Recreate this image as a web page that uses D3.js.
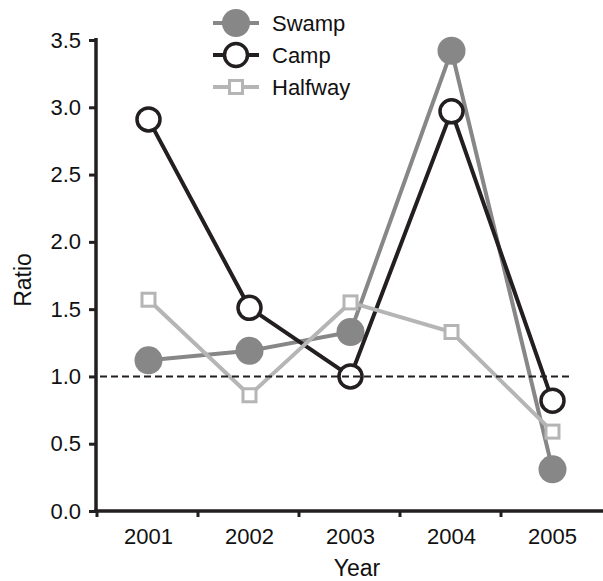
<!DOCTYPE html>
<html><head><meta charset="utf-8">
<script src="https://cdn.jsdelivr.net/npm/d3@7/dist/d3.min.js"></script>
<style>body{margin:0;background:#fff}svg{display:block}text{font-family:"Liberation Sans",Arial,sans-serif;fill:#111}</style>
</head><body><svg id="c" width="603" height="581"></svg>
<script>
const years = ["2001","2002","2003","2004","2005"];
const swamp = [1.12, 1.19, 1.33, 3.42, 0.31];
const camp = [2.91, 1.51, 1.00, 2.97, 0.82];
const halfway = [1.57, 0.86, 1.55, 1.33, 0.59];
const yTicks = [0, 0.5, 1.0, 1.5, 2.0, 2.5, 3.0, 3.5];
const refValue = 1.0;

const svg = d3.select("#c");
const dark = "#231f20", mid = "#878787", light = "#b5b5b5";
const x = d3.scaleBand().domain(years).range([98, 603]);
const y = d3.scaleLinear().domain([0, 3.5]).range([511, 40]);
const cx = d => x(d) + x.bandwidth() / 2;

// y axis
const ya = svg.append("g").attr("transform", "translate(96,0)")
  .call(d3.axisLeft(y).tickValues(yTicks).tickFormat(d3.format(".1f")).tickSize(7).tickPadding(8));
ya.select(".domain").attr("stroke", dark).attr("stroke-width", 3.5).attr("d", "M0,38V513");
ya.selectAll(".tick line").attr("stroke", dark).attr("stroke-width", 3);
ya.selectAll(".tick text").style("font-size", "22px").attr("fill", "#111").style("font-family", "Liberation Sans, Arial");

// x axis
const xa = svg.append("g").attr("transform", "translate(0,511)")
  .call(d3.axisBottom(x).tickSize(0).tickPadding(17));
xa.select(".domain").attr("stroke", dark).attr("stroke-width", 3.5).attr("d", "M94,0H603");
xa.selectAll(".tick text").style("font-size", "22px").attr("fill", "#111").style("font-family", "Liberation Sans, Arial");
xa.selectAll(".bt").data(years).enter().append("line")
  .attr("x1", d => x(d) - 1).attr("x2", d => x(d) - 1).attr("y1", 0).attr("y2", 6)
  .attr("stroke", dark).attr("stroke-width", 3);

// axis titles
svg.append("text").attr("x", 357).attr("y", 576).attr("text-anchor", "middle").style("font-size", "23px").text("Year");
svg.append("text").attr("transform", "translate(31,280) rotate(-90)").attr("text-anchor", "middle").style("font-size", "23px").text("Ratio");

const line = d3.line().x((d, i) => cx(years[i])).y(d => y(d));

// Swamp
svg.append("path").datum(swamp).attr("d", line).attr("fill", "none").attr("stroke", mid).attr("stroke-width", 4);
svg.selectAll(".sw").data(swamp).enter().append("circle")
  .attr("cx", (d, i) => cx(years[i])).attr("cy", d => y(d)).attr("r", 14).attr("fill", mid);
// Camp
svg.append("path").datum(camp).attr("d", line).attr("fill", "none").attr("stroke", dark).attr("stroke-width", 4);
svg.selectAll(".cp").data(camp).enter().append("circle")
  .attr("cx", (d, i) => cx(years[i])).attr("cy", d => y(d)).attr("r", 11.5)
  .attr("fill", "#fff").attr("stroke", dark).attr("stroke-width", 3.5);
// Halfway
svg.append("path").datum(halfway).attr("d", line).attr("fill", "none").attr("stroke", light).attr("stroke-width", 4);
svg.selectAll(".hw").data(halfway).enter().append("rect")
  .attr("x", (d, i) => cx(years[i]) - 6.5).attr("y", d => y(d) - 6.5).attr("width", 13).attr("height", 13)
  .attr("fill", "#fff").attr("stroke", light).attr("stroke-width", 3);

// reference line
svg.append("line").attr("x1", 100).attr("x2", 572).attr("y1", y(refValue)).attr("y2", y(refValue))
  .attr("stroke", dark).attr("stroke-width", 2).attr("stroke-dasharray", "7,4");

// legend
const legend = [
  {name: "Swamp", type: "fill", color: mid, yy: 23},
  {name: "Camp", type: "open", color: dark, yy: 55},
  {name: "Halfway", type: "sq", color: light, yy: 87}
];
const lg = svg.append("g");
legend.forEach(l => {
  lg.append("line").attr("x1", 213).attr("x2", 259).attr("y1", l.yy).attr("y2", l.yy)
    .attr("stroke", l.color).attr("stroke-width", 4);
  if (l.type === "fill") lg.append("circle").attr("cx", 236).attr("cy", l.yy).attr("r", 14).attr("fill", l.color);
  else if (l.type === "open") lg.append("circle").attr("cx", 236).attr("cy", l.yy).attr("r", 11.5).attr("fill", "#fff").attr("stroke", l.color).attr("stroke-width", 3.5);
  else lg.append("rect").attr("x", 229.5).attr("y", l.yy - 6.5).attr("width", 13).attr("height", 13).attr("fill", "#fff").attr("stroke", l.color).attr("stroke-width", 3);
  lg.append("text").attr("x", 272).attr("y", l.yy).attr("dy", "0.36em").style("font-size", "22px").text(l.name);
});
</script></body></html>
